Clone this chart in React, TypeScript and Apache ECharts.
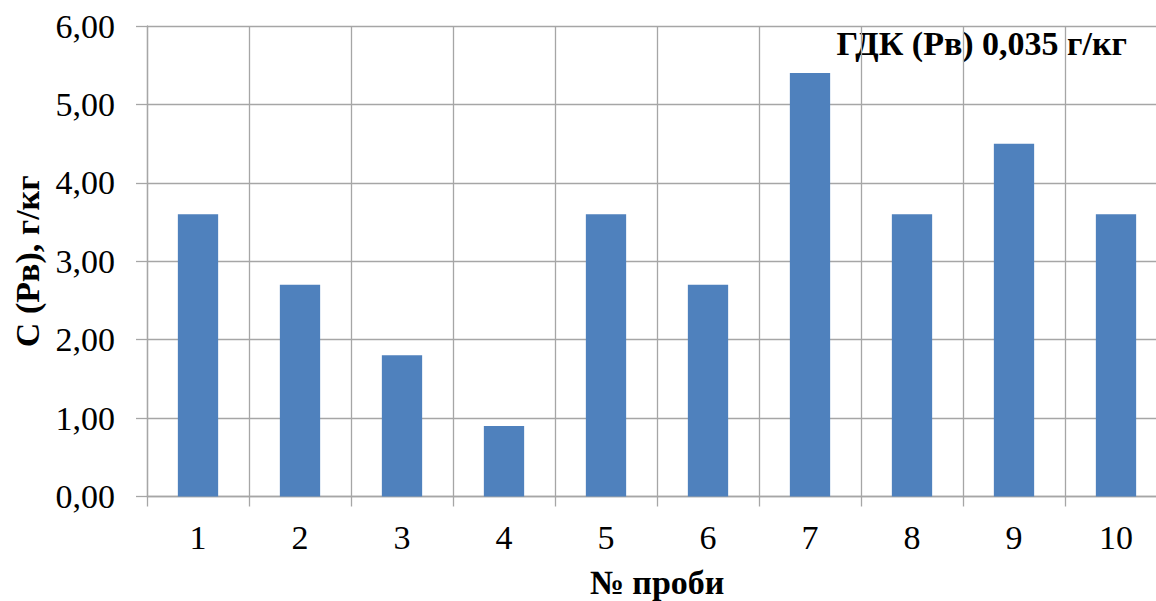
import React, { useEffect, useRef } from "react";
import * as echarts from "echarts";

// Sample numbers and measured Pb concentration, g/kg
const samples = ["1", "2", "3", "4", "5", "6", "7", "8", "9", "10"];
const concentration = [3.6, 2.7, 1.8, 0.9, 3.6, 2.7, 5.4, 3.6, 4.5, 3.6];
const yTicks = { min: 0, max: 6, interval: 1 };
const limitNote = "ГДК (Рв) 0,035 г/кг";

const FONT = '"Liberation Serif", "DejaVu Serif", serif';
const GRID = "#a6a6a6";

export default function App() {
  const ref = useRef<HTMLDivElement>(null);

  useEffect(() => {
    if (!ref.current) return;
    const chart = echarts.init(ref.current, undefined, { renderer: "svg" });
    chart.setOption({
      animation: false,
      backgroundColor: "#ffffff",
      grid: {
        left: 147,
        right: -11,
        top: 26,
        bottom: 104.5,
        containLabel: false,
        outerBoundsMode: "none",
      },
      xAxis: {
        type: "category",
        data: samples,
        name: "№ проби",
        nameLocation: "middle",
        nameGap: 69,
        nameTextStyle: {
          fontFamily: FONT,
          fontSize: 34,
          lineHeight: 34,
          fontWeight: "bold",
          color: "#000",
        },
        axisLine: { show: true, lineStyle: { color: GRID, width: 1.3 } },
        axisTick: { show: true, length: 10, lineStyle: { color: GRID, width: 1.3 } },
        axisLabel: { fontFamily: FONT, fontSize: 34, color: "#000", margin: 24 },
        splitLine: { show: true, lineStyle: { color: GRID, width: 1.3 } },
      },
      yAxis: {
        type: "value",
        min: yTicks.min,
        max: yTicks.max,
        interval: yTicks.interval,
        name: "С (Рв), г/кг",
        nameLocation: "middle",
        nameGap: 98,
        nameRotate: 90,
        nameTextStyle: { fontFamily: FONT, fontSize: 34, fontWeight: "bold", color: "#000" },
        axisLine: { show: true, lineStyle: { color: GRID, width: 1.3 } },
        axisTick: { show: true, length: 11, lineStyle: { color: GRID, width: 1.3 } },
        axisLabel: {
          fontFamily: FONT,
          fontSize: 34,
          color: "#000",
          margin: 32,
          formatter: (v: number) => v.toFixed(2).replace(".", ","),
        },
        splitLine: { show: true, lineStyle: { color: GRID, width: 1.3 } },
      },
      series: [
        {
          type: "bar",
          data: concentration,
          barWidth: "39.5%",
          itemStyle: { color: "#4f81bd" },
        },
      ],
      graphic: [
        {
          type: "text",
          right: 29,
          top: 26,
          style: {
            text: limitNote,
            fontFamily: FONT,
            fontSize: 34,
            fontWeight: "bold",
            fill: "#000",
          },
        },
      ],
    });
    return () => chart.dispose();
  }, []);

  return (
    <div
      ref={ref}
      style={{ position: "fixed", left: 0, top: 0, width: 1156, height: 601, background: "#fff" }}
    />
  );
}
